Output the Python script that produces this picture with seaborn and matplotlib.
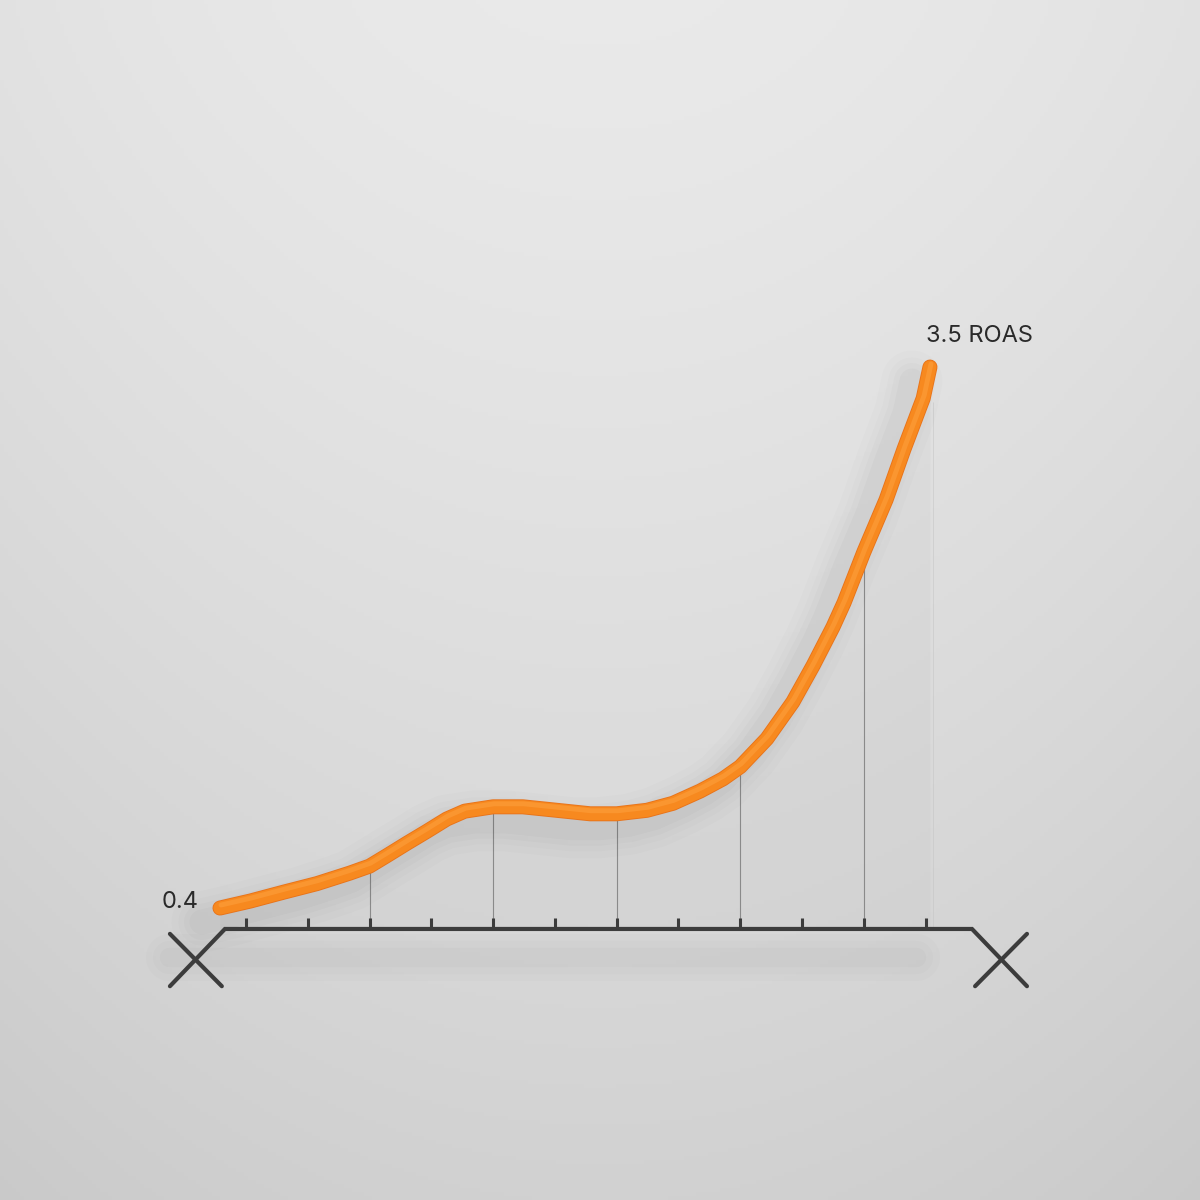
import numpy as np
import pandas as pd
import matplotlib
matplotlib.use("Agg")
import matplotlib.pyplot as plt
import matplotlib.transforms as mtransforms
import seaborn as sns

# curve (x in tick units, y in ROAS)
step = [0.58, 1.07, 1.6, 2.15, 2.68, 3, 3.28, 3.6, 3.93, 4.25, 4.54, 5, 5.48,
        6.03, 6.57, 7, 7.49, 7.91, 8.35, 8.72, 9, 9.43, 9.85, 10.18, 10.5,
        10.68, 11, 11.36, 11.65, 11.96, 12.07]
roas = [0.40, 0.44, 0.49, 0.54, 0.60, 0.64, 0.70, 0.77, 0.84, 0.91, 0.955, 0.98, 0.98,
        0.96, 0.94, 0.94, 0.96, 1.00, 1.07, 1.14, 1.21, 1.37, 1.58, 1.79, 2.01,
        2.15, 2.44, 2.74, 3.03, 3.32, 3.50]

ticks = list(range(1, 13))
grid_ticks = [3, 5, 7, 9, 11]
start_label = "0.4"
end_label = "3.5 ROAS"

base = 0.28          # level of the drawn axis line
axis_ends = [0.66, 12.75]

df = pd.DataFrame({"step": step, "roas": roas})

sns.set_theme(style="white")
plt.rcParams['font.family'] = ['Inter', 'DejaVu Sans']

fig = plt.figure(figsize=(12, 12), dpi=100)
ax = fig.add_axes([0, 0, 1, 1])
xlim = (-2.98, 16.44)
ylim = (-1.273, 5.603)

# soft grey backdrop, lighter at the top
yy, xx = np.mgrid[0:1:300j, 0:1:300j]
shade = 0.915 - 0.095 * yy ** 1.3 - 0.03 * ((xx - 0.5) ** 2) * 4
bg = np.dstack([shade, shade, shade])
ax.imshow(bg, extent=[xlim[0], xlim[1], ylim[0], ylim[1]], aspect='auto', origin='upper', zorder=0)

# light fill under the curve
ax.fill_between(df["step"], df["roas"], base, color='#8a8a8a', alpha=0.05, linewidth=0, zorder=1)
ax.vlines(df["step"].iloc[-1] + 0.05, base, df["roas"].iloc[-1] - 0.2, color='#c4c4c4',
          linewidth=0.6, alpha=0.6, zorder=1)

# thin droplines from the axis up to the curve
lookup = dict(zip(step, roas))
ax.vlines(grid_ticks, base, [lookup[t] - 0.03 for t in grid_ticks], color='#8a8a8a', linewidth=0.8, zorder=2)

# blurred shadows
sh = mtransforms.offset_copy(ax.transData, fig=fig, x=-18, y=-14, units='dots')
for w, a in [(44, 0.010), (34, 0.012), (26, 0.015), (18, 0.018)]:
    ax.plot(step, roas, color='black', linewidth=w, alpha=a, solid_capstyle='round',
            solid_joinstyle='round', transform=sh, zorder=2)
sh_axis = mtransforms.offset_copy(ax.transData, fig=fig, x=0, y=-28, units='dots')
for w, a in [(34, 0.010), (24, 0.012), (14, 0.015)]:
    ax.plot([axis_ends[0] - 0.9, axis_ends[1] - 0.9], [base, base], color='black', linewidth=w,
            alpha=a, solid_capstyle='round', transform=sh_axis, zorder=1)

# axis line with the X ends
d_t, d_v = 0.47, 0.178
left_c = (axis_ends[0] - d_t, base - d_v)
right_c = (axis_ends[1] + d_t, base - d_v)
a_t, a_v = 0.42, 0.15   # half size of the free arm of each X
axis_col = '#3c3c3c'
ax.plot([left_c[0] - a_t, axis_ends[0], axis_ends[1], right_c[0] + a_t],
        [left_c[1] - a_v, base, base, right_c[1] - a_v],
        color=axis_col, linewidth=3, solid_joinstyle='miter', zorder=3)
ax.plot([left_c[0] - a_t, left_c[0] + a_t], [left_c[1] + a_v, left_c[1] - a_v],
        color=axis_col, linewidth=3, zorder=3)
ax.plot([right_c[0] - a_t, right_c[0] + a_t], [right_c[1] - a_v, right_c[1] + a_v],
        color=axis_col, linewidth=3, zorder=3)
ax.vlines(ticks, base, base + 0.06, color=axis_col, linewidth=2.2, zorder=3)

# the orange tube
ax.plot(step, roas, color='#e8731a', linewidth=10.8, solid_capstyle='round',
        solid_joinstyle='round', zorder=4)
sns.lineplot(data=df, x="step", y="roas", color='#f7891f', linewidth=9.5, sort=False,
             solid_capstyle='round', solid_joinstyle='round', ax=ax, zorder=5)
hl = mtransforms.offset_copy(ax.transData, fig=fig, x=1, y=3, units='dots')
ax.plot(step, roas, color='#ffa646', linewidth=3.5, alpha=0.45, solid_capstyle='round',
        solid_joinstyle='round', transform=hl, zorder=6)

ax.set_xlim(*xlim)
ax.set_ylim(*ylim)
ax.axis('off')

ax.annotate(start_label, (step[0], roas[0]), xytext=(-21, 6), textcoords='offset pixels',
            ha='right', va='center', fontsize=17, color='#2a2a2a', zorder=7)
ax.annotate(end_label, (step[-1], roas[-1]), xytext=(-4, 31), textcoords='offset pixels',
            ha='left', va='center', fontsize=17, color='#2a2a2a', zorder=7)

fig.savefig('out.png', dpi=100)
